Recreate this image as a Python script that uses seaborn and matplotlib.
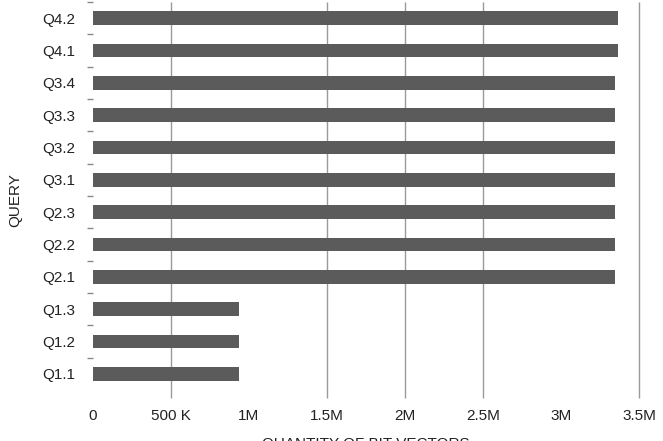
import matplotlib
matplotlib.use("Agg")
import matplotlib.pyplot as plt
import seaborn as sns
import pandas as pd
import numpy as np

queries = ["Q4.2", "Q4.1", "Q3.4", "Q3.3", "Q3.2", "Q3.1", "Q2.3", "Q2.2", "Q2.1", "Q1.3", "Q1.2", "Q1.1"]
bit_vectors = [3365000, 3365000, 3346000, 3346000, 3346000, 3346000, 3346000, 3346000, 3346000, 936000, 936000, 936000]
tick_values = [0, 500000, 1000000, 1500000, 2000000, 2500000, 3000000, 3500000]
tick_labels = ["0", "500 K", "1M", "1.5M", "2M", "2.5M", "3M", "3.5M"]
grid_values = [500000, 1500000, 2000000, 2500000, 3500000]

df = pd.DataFrame({"query": queries, "value": bit_vectors})

sns.set_theme(style="white")
plt.rcParams["font.family"] = ["Liberation Sans", "DejaVu Sans"]

fig = plt.figure(figsize=(6.63, 4.41), dpi=100)
ax = fig.add_axes([93/663, 1 - 390/441, 546/663, 388/441])

ax.vlines(grid_values, -0.02, 1.0, transform=ax.get_xaxis_transform(),
          colors="#9a9a9a", linewidth=1.0, clip_on=False, zorder=0)

sns.barplot(data=df, x="value", y="query", orient="h", color="#5b5b5b",
            saturation=1, width=0.43, linewidth=0, ax=ax, zorder=2)

ax.set_xlim(0, 3500000)
ax.set_ylim(len(queries) - 0.5, -0.5)
ax.set_xticks(tick_values)
ax.set_xticklabels(tick_labels)
ax.tick_params(axis="x", length=0, pad=14, labelsize=11, labelcolor="#222222")
ax.tick_params(axis="y", length=0, pad=13, labelsize=11, labelcolor="#222222")
ax.set_yticks(np.arange(len(queries)) - 0.5, minor=True)
ax.tick_params(axis="y", which="minor", length=4, color="#888888", width=1, left=True)

for s in ax.spines.values():
    s.set_visible(False)

ax.set_xlabel("QUANTITY OF BIT VECTORS", fontsize=11, color="#222222")
ax.xaxis.set_label_coords(0.5, -0.14)
ax.xaxis.label.set_va("center")
ax.set_ylabel("QUERY", fontsize=11, color="#222222")
ax.yaxis.set_label_coords(-0.143, 0.49)
ax.yaxis.label.set_va("center")

fig.savefig("out.png", dpi=100)
